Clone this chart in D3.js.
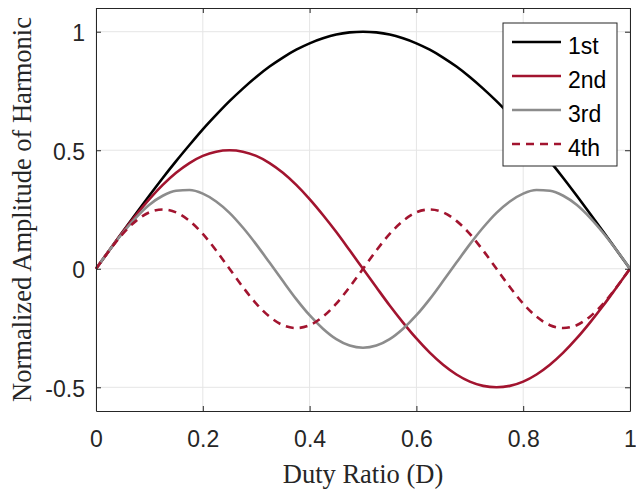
<!DOCTYPE html>
<html>
<head>
<meta charset="utf-8">
<script src="https://cdn.jsdelivr.net/npm/d3@7"></script>
<style>
  body { margin: 0; background: #fff; }
  text { font-family: "Liberation Sans", Arial, sans-serif; }
</style>
</head>
<body>
<div id="chart"></div>
<script>
const duty = [0,0.025,0.05,0.075,0.1,0.125,0.15,0.175,0.2,0.225,0.25,0.275,0.3,0.325,0.35,0.375,0.4,0.425,0.45,0.475,0.5,
  0.525,0.55,0.575,0.6,0.625,0.65,0.675,0.7,0.725,0.75,0.775,0.8,0.825,0.85,0.875,0.9,0.925,0.95,0.975,1];

const first = [0,0.078,0.156,0.233,0.309,0.383,0.454,0.522,0.588,0.649,0.707,0.760,0.809,0.853,0.891,0.924,0.951,0.972,0.988,0.997,1.000,
  0.997,0.988,0.972,0.951,0.924,0.891,0.853,0.809,0.760,0.707,0.649,0.588,0.522,0.454,0.383,0.309,0.233,0.156,0.078,0];
const second = [0,0.078,0.155,0.227,0.294,0.354,0.405,0.446,0.476,0.494,0.500,0.494,0.476,0.446,0.405,0.354,0.294,0.227,0.155,0.078,0,
  -0.078,-0.155,-0.227,-0.294,-0.354,-0.405,-0.446,-0.476,-0.494,-0.500,-0.494,-0.476,-0.446,-0.405,-0.354,-0.294,-0.227,-0.155,-0.078,0];
const third = [0,0.078,0.151,0.216,0.270,0.308,0.329,0.332,0.317,0.284,0.236,0.174,0.103,0.026,-0.052,-0.128,-0.196,-0.253,-0.297,-0.324,-0.333,
  -0.324,-0.297,-0.253,-0.196,-0.128,-0.052,0.026,0.103,0.174,0.236,0.284,0.317,0.332,0.329,0.308,0.270,0.216,0.151,0.078,0];
const fourth = [0,0.077,0.147,0.202,0.238,0.250,0.238,0.202,0.147,0.077,0,-0.077,-0.147,-0.202,-0.238,-0.250,-0.238,-0.202,-0.147,-0.077,0,
  0.077,0.147,0.202,0.238,0.250,0.238,0.202,0.147,0.077,0,-0.077,-0.147,-0.202,-0.238,-0.250,-0.238,-0.202,-0.147,-0.077,0];

const seriesNames = ["1st", "2nd", "3rd", "4th"];
const seriesValues = [first, second, third, fourth];
const seriesColors = ["#000000", "#a2142f", "#8c8c8c", "#a2142f"];
const seriesDash = [null, null, null, "8,6"];

const xTicks = [0, 0.2, 0.4, 0.6, 0.8, 1];
const yTicks = [-0.5, 0, 0.5, 1];
const xTickLabels = ["0", "0.2", "0.4", "0.6", "0.8", "1"];
const yTickLabels = ["-0.5", "0", "0.5", "1"];

const width = 636, height = 489;
const margin = { top: 8, right: 6, bottom: 78, left: 96 };
const axisColor = "#262626";

const svg = d3.select("#chart").append("svg")
  .attr("width", width)
  .attr("height", height);

const x = d3.scaleLinear().domain([0, 1]).range([margin.left, width - margin.right]);
const y = d3.scaleLinear().domain([-0.6, 1.1]).range([height - margin.bottom, margin.top]);

// grid
svg.append("g")
  .selectAll("line")
  .data(xTicks)
  .enter().append("line")
  .attr("x1", d => x(d)).attr("x2", d => x(d))
  .attr("y1", y(-0.6)).attr("y2", y(1.1))
  .attr("stroke", "#e5e5e5").attr("stroke-width", 1);
svg.append("g")
  .selectAll("line")
  .data(yTicks)
  .enter().append("line")
  .attr("x1", x(0)).attr("x2", x(1))
  .attr("y1", d => y(d)).attr("y2", d => y(d))
  .attr("stroke", "#e5e5e5").attr("stroke-width", 1);

// lines
const line = d3.line()
  .x((d, i) => x(duty[i]))
  .y(d => y(d))
  .curve(d3.curveMonotoneX);

seriesValues.forEach((vals, i) => {
  svg.append("path")
    .datum(vals)
    .attr("d", line)
    .attr("fill", "none")
    .attr("stroke", seriesColors[i])
    .attr("stroke-width", 2.6)
    .attr("stroke-dasharray", seriesDash[i]);
});

// axes (inward ticks, box)
const xAxisB = svg.append("g")
  .attr("transform", `translate(0,${y(-0.6)})`)
  .call(d3.axisBottom(x).tickValues(xTicks).tickSizeInner(-5).tickSizeOuter(0).tickPadding(20)
    .tickFormat((d, i) => xTickLabels[i]));
const xAxisT = svg.append("g")
  .attr("transform", `translate(0,${y(1.1)})`)
  .call(d3.axisTop(x).tickValues(xTicks).tickSizeInner(-5).tickSizeOuter(0).tickFormat(""));
const yAxisL = svg.append("g")
  .attr("transform", `translate(${x(0)},0)`)
  .call(d3.axisLeft(y).tickValues(yTicks).tickSizeInner(-5).tickSizeOuter(0).tickPadding(11)
    .tickFormat((d, i) => yTickLabels[i]));
const yAxisR = svg.append("g")
  .attr("transform", `translate(${x(1)},0)`)
  .call(d3.axisRight(y).tickValues(yTicks).tickSizeInner(-5).tickSizeOuter(0).tickFormat(""));

[xAxisB, xAxisT, yAxisL, yAxisR].forEach(g => {
  g.selectAll("path").attr("stroke", axisColor).attr("stroke-width", 1);
  g.selectAll("line").attr("stroke", axisColor);
  g.selectAll("text")
    .attr("fill", axisColor)
    .style("font-family", "'Liberation Sans', Arial, sans-serif")
    .style("font-size", "23px");
});
yAxisL.selectAll("text").attr("dy", "0.4em");

// axis titles
svg.append("text")
  .attr("x", (x(0) + x(1)) / 2)
  .attr("y", 483)
  .attr("text-anchor", "middle")
  .style("font-family", "'Liberation Serif', 'Times New Roman', serif")
  .style("font-size", "26.5px")
  .attr("fill", axisColor)
  .text("Duty Ratio (D)");

svg.append("text")
  .attr("transform", `translate(31,${(y(-0.6) + y(1.1)) / 2}) rotate(-90)`)
  .attr("text-anchor", "middle")
  .style("font-family", "'Liberation Serif', 'Times New Roman', serif")
  .style("font-size", "26.5px")
  .attr("fill", axisColor)
  .text("Normalized Amplitude of Harmonic");

// legend
const legend = svg.append("g").attr("transform", "translate(503,23)");
legend.append("rect")
  .attr("width", 114).attr("height", 143)
  .attr("fill", "#fff").attr("stroke", axisColor).attr("stroke-width", 1);
seriesNames.forEach((name, i) => {
  const ly = 19 + i * 34;
  legend.append("line")
    .attr("x1", 9).attr("x2", 58)
    .attr("y1", ly).attr("y2", ly)
    .attr("stroke", seriesColors[i])
    .attr("stroke-width", 2.6)
    .attr("stroke-dasharray", seriesDash[i]);
  legend.append("text")
    .attr("x", 65).attr("y", ly + 11.5)
    .style("font-size", "23px")
    .attr("fill", "#000")
    .text(name);
});
</script>
</body>
</html>
